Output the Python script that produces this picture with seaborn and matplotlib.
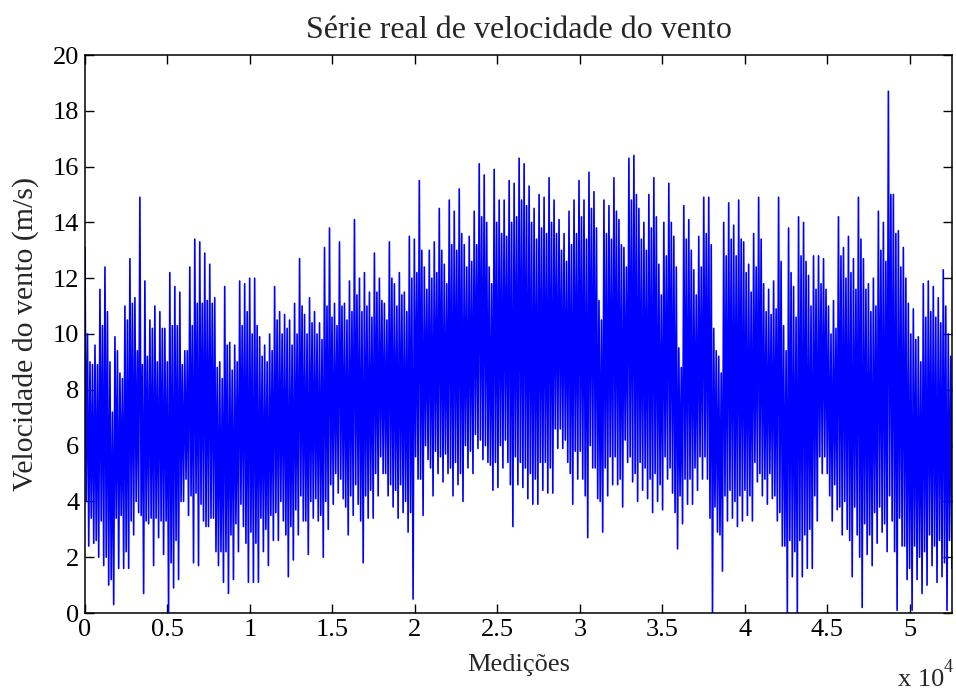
import numpy as np
import pandas as pd
import matplotlib
matplotlib.use("Agg")
import matplotlib.pyplot as plt
import seaborn as sns

# ---- data ----
# per block of ~300 measurements: highest peak, lowest trough,
# second-highest peak and second-lowest trough
upper = [13.1, 9.0, 9.6, 11.6, 12.4, 9.0, 9.9, 8.6, 11.0, 12.7, 11.3, 14.9, 11.9, 10.5,
         11.0, 10.8, 10.2, 12.2, 11.7, 11.5, 9.4, 12.4, 13.4, 13.3, 12.9, 12.5, 11.3, 9.0,
         11.7, 9.7, 9.6, 11.9, 11.8, 12.0, 12.0, 9.9, 9.6, 10.0, 11.7, 10.8, 10.7, 10.5,
         11.1, 12.7, 10.7, 11.3, 10.8, 10.4, 13.1, 13.8, 11.1, 13.3, 11.1, 11.9, 14.1, 12.0,
         12.2, 11.5, 12.9, 12.0, 11.1, 13.3, 11.8, 12.2, 11.5, 13.5, 13.4, 15.5, 12.4, 13.0,
         13.3, 14.5, 12.5, 14.8, 14.4, 15.2, 13.2, 13.5, 14.4, 16.1, 15.7, 12.4, 15.9, 14.8, 14.8,
         15.5, 15.4, 16.3, 16.1, 15.3, 14.5, 15.0, 14.9, 15.6, 14.8, 14.1, 13.6, 14.4, 14.8,
         15.5, 14.8, 15.8, 15.1, 11.2, 14.8, 14.6, 15.6, 14.1, 13.1, 16.3, 16.4, 14.5, 14.0, 15.0,
         15.6, 12.5, 14.0, 15.4, 13.5, 9.5, 14.6, 14.1, 12.3, 13.5, 14.9, 14.9, 10.2, 9.2,
         14.0, 14.7, 13.9, 14.8, 13.3, 12.5, 13.6, 14.9, 11.8, 11.6, 11.9, 14.9, 10.3, 13.8, 11.7,
         14.2, 14.0, 12.1, 12.8, 12.8, 12.7, 11.0, 11.2, 14.2, 13.1, 13.5, 12.7, 14.9, 12.7,
         11.8, 12.0, 14.4, 14.0, 18.7, 15.0, 13.7, 13.1, 11.1, 10.9, 9.9, 11.8, 11.9, 11.7,
         11.3, 12.3, 10.0]
lower = [2.4, 2.5, 2.0, 1.7, 1.0, 0.3, 1.6, 1.6, 1.6, 2.8, 3.6, 0.7, 3.2, 1.7,
         2.7, 2.1, 0.0, 0.9, 1.2, 4.0, 3.5, 1.8, 1.7, 3.3, 3.1, 3.4, 1.7, 1.1,
         0.7, 1.2, 2.2, 3.1, 1.1, 1.1, 1.1, 2.2, 1.7, 2.6, 2.6, 3.3, 1.3, 1.9,
         2.8, 3.3, 2.1, 3.4, 3.3, 2.0, 3.0, 3.9, 4.3, 4.1, 2.8, 3.5, 3.9, 1.8,
         3.4, 3.4, 4.2, 5.0, 4.2, 3.8, 3.4, 3.6, 2.9, 0.5, 4.8, 3.5, 5.5, 4.2,
         5.0, 4.7, 5.0, 4.2, 4.6, 4.0, 5.2, 5.0, 5.9, 5.5, 5.4, 4.4, 4.5, 5.2, 5.4,
         3.1, 4.6, 4.5, 4.1, 3.9, 3.9, 4.4, 4.3, 4.3, 5.9, 5.9, 5.4, 3.9, 4.8,
         4.8, 2.7, 5.2, 4.1, 2.9, 4.2, 4.6, 4.6, 3.8, 5.4, 4.7, 4.0, 4.4, 4.1, 3.6,
         4.0, 3.7, 4.8, 4.3, 2.3, 3.2, 3.9, 3.9, 4.4, 4.8, 4.8, 0.0, 2.9, 1.5,
         3.3, 3.4, 3.1, 3.3, 3.5, 3.3, 4.7, 4.2, 3.9, 4.1, 3.3, 2.4, 0.0, 1.3, 0.0,
         1.3, 1.6, 1.6, 3.3, 5.0, 5.0, 3.3, 3.7, 2.8, 3.0, 1.3, 2.8, 0.2, 2.1,
         1.7, 2.5, 2.9, 2.2, 3.3, 0.1, 2.4, 1.2, 0.1, 1.2, 0.7, 1.0, 1.7, 1.1,
         1.3, 0.1, 1.6]
upper2 = [10.0, 8.9, 8.9, 10.3, 10.8, 7.2, 9.4, 8.4, 10.5, 11.1, 9.4, 8.9, 9.2, 10.2,
          9.0, 10.2, 9.0, 10.3, 10.3, 8.9, 9.4, 10.3, 11.1, 11.1, 11.2, 11.1, 8.8, 8.4,
          9.6, 8.7, 9.0, 10.3, 10.8, 10.0, 10.3, 9.2, 9.0, 9.4, 10.5, 10.0, 10.2, 9.6,
          10.0, 11.0, 10.0, 10.4, 10.0, 9.8, 11.0, 10.6, 10.3, 11.0, 10.5, 10.8, 11.4, 10.8,
          11.0, 10.6, 11.5, 11.2, 10.5, 12.0, 11.0, 11.4, 10.8, 12.0, 12.2, 13.0, 11.6, 12.0,
          12.2, 13.0, 11.8, 13.2, 13.0, 13.6, 12.4, 12.6, 13.2, 14.2, 14.0, 11.8, 14.0, 13.6, 13.5,
          14.0, 14.2, 14.8, 14.6, 14.0, 13.4, 13.8, 13.6, 14.0, 13.6, 13.0, 12.6, 13.2, 13.6,
          14.2, 13.4, 14.5, 13.8, 10.5, 13.6, 13.4, 14.4, 13.2, 12.4, 14.8, 15.0, 13.4, 13.0, 13.8,
          14.2, 11.4, 12.8, 14.0, 12.4, 8.8, 13.4, 13.0, 11.4, 12.4, 13.6, 13.2, 9.4, 8.6,
          12.8, 13.4, 12.8, 13.4, 12.2, 11.5, 12.4, 13.4, 10.8, 10.7, 10.9, 12.6, 9.4, 12.2, 10.6,
          12.8, 12.6, 11.0, 11.6, 11.8, 11.6, 10.0, 10.2, 12.8, 12.0, 12.2, 11.6, 13.4, 11.6,
          10.8, 11.0, 13.0, 12.6, 15.0, 13.6, 12.4, 12.0, 10.0, 9.8, 9.0, 10.6, 10.8, 10.6,
          10.4, 11.0, 9.2]
lower2 = [4.0, 3.4, 2.6, 3.3, 2.0, 1.2, 3.4, 3.5, 2.2, 3.3, 4.0, 3.5, 3.3, 3.4,
          3.4, 3.3, 3.3, 1.8, 2.6, 4.0, 4.8, 4.2, 4.3, 3.9, 3.1, 3.4, 2.2, 2.2,
          2.2, 2.8, 3.2, 3.9, 2.5, 2.9, 2.5, 3.4, 3.0, 3.5, 3.6, 4.0, 2.8, 3.1,
          3.7, 4.2, 3.3, 4.0, 4.1, 3.5, 4.0, 4.6, 5.0, 4.8, 3.8, 4.2, 4.6, 3.3,
          4.2, 4.4, 5.0, 5.6, 5.0, 4.6, 4.4, 4.6, 4.0, 3.6, 5.6, 4.8, 6.0, 5.2,
          5.8, 5.6, 5.7, 5.2, 5.4, 5.0, 6.0, 5.8, 6.4, 6.2, 6.0, 5.3, 5.4, 6.0, 6.2,
          4.6, 5.6, 5.4, 5.2, 5.0, 4.8, 5.4, 5.4, 5.2, 6.6, 6.6, 6.2, 5.0, 5.8,
          5.8, 4.2, 6.0, 5.2, 4.0, 5.2, 5.6, 5.6, 4.8, 6.2, 5.6, 5.0, 5.4, 5.2, 4.8,
          5.0, 4.6, 5.6, 5.2, 3.6, 4.2, 4.8, 4.8, 5.2, 5.6, 5.6, 3.4, 3.8, 2.8,
          4.2, 4.4, 4.0, 4.2, 4.4, 4.2, 5.4, 5.0, 4.8, 5.0, 4.2, 3.6, 2.4, 2.6, 2.2,
          2.6, 2.8, 3.0, 4.2, 5.6, 5.6, 4.2, 4.6, 3.8, 4.0, 2.6, 3.8, 2.0, 3.2,
          2.8, 3.6, 3.8, 3.2, 4.2, 2.2, 3.4, 2.4, 1.6, 2.4, 2.0, 2.2, 2.8, 2.4,
          2.6, 1.8, 2.6]

x_max = 52560
xtick_vals = [0, 5000, 10000, 15000, 20000, 25000, 30000, 35000, 40000, 45000, 50000]
xtick_labels = ["0", "0.5", "1", "1.5", "2", "2.5", "3", "3.5", "4", "4.5", "5"]
ytick_vals = [0, 2, 4, 6, 8, 10, 12, 14, 16, 18, 20]

title = "Série real de velocidade do vento"
xlabel = "Medições"
ylabel = "Velocidade do vento (m/s)"

# series in order of measurement within every block
n = min(len(upper), len(lower), len(upper2), len(lower2))
speed = np.empty(4 * n)
speed[0::4] = upper[:n]
speed[1::4] = lower2[:n]
speed[2::4] = upper2[:n]
speed[3::4] = lower[:n]
index = np.linspace(0, x_max * (4 * n - 1) / (4 * 174 - 1), len(speed))
df = pd.DataFrame({"Medições": index, "Velocidade": speed})

sns.set_style("ticks")
plt.rcParams["font.family"] = ["Liberation Serif", "DejaVu Serif"]

fig = plt.figure(figsize=(9.56, 6.9), dpi=100)
ax = fig.add_axes([85 / 956, 1 - 613 / 690, 867 / 956, 558 / 690])

sns.lineplot(data=df, x="Medições", y="Velocidade", color="#0000ff", linewidth=1.2,
             estimator=None, ax=ax)

ax.set_xlim(0, x_max)
ax.set_ylim(0, 20)
ax.set_xticks(xtick_vals)
ax.set_xticklabels(xtick_labels)
ax.set_yticks(ytick_vals)
ax.set_yticklabels([str(v) for v in ytick_vals])
ax.tick_params(direction="in", length=6.5, width=1.0, top=True, right=True,
               labelsize=19, colors="black", pad=4)
for s in ax.spines.values():
    s.set_visible(True)
    s.set_linewidth(1.1)
    s.set_color("black")

ax.set_title(title, fontsize=23, pad=12)
ax.set_xlabel(xlabel, fontsize=19, labelpad=10)
ax.set_ylabel(ylabel, fontsize=21.5, labelpad=10)

fig.text(898 / 956, 1 - 686 / 690, "x 10", fontsize=19, ha="left", va="baseline")
fig.text(944 / 956, 1 - 672 / 690, "4", fontsize=13, ha="left", va="baseline")

fig.savefig("out.png", dpi=100, facecolor="white")
